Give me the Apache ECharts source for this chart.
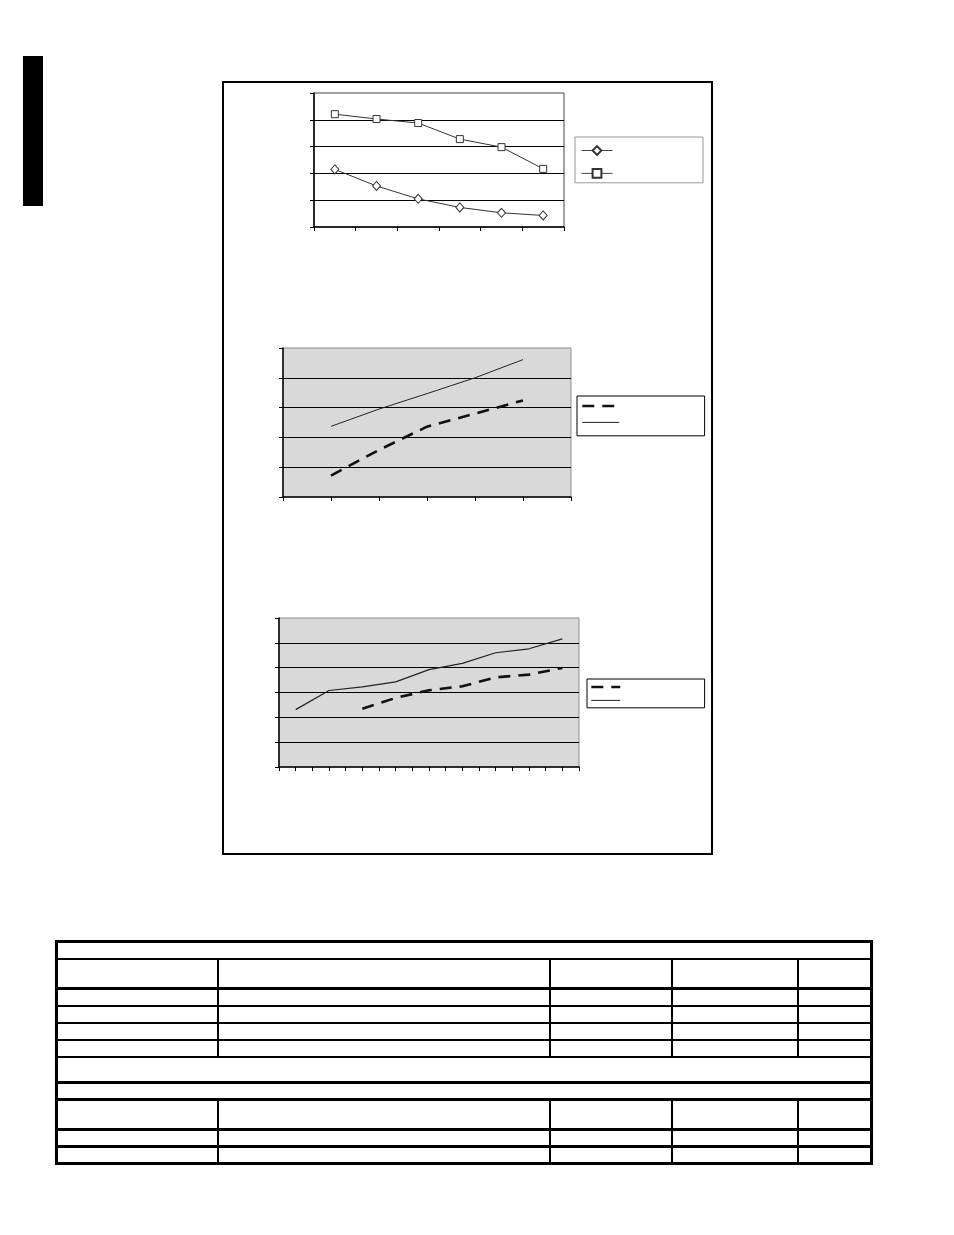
<!DOCTYPE html>
<html>
<head>
<meta charset="utf-8">
<script src="https://cdn.jsdelivr.net/npm/echarts/dist/echarts.min.js"></script>
<style>
html, body { margin: 0; padding: 0; background: #fff; }
#page { position: relative; width: 954px; height: 1235px; overflow: hidden; }
#tab { position: absolute; left: 23px; top: 56px; width: 20px; height: 150px; background: #000; }
#frame { position: absolute; left: 222px; top: 81px; width: 487px; height: 770px; border: 2px solid #000; }
#main { position: absolute; left: 0; top: 0; width: 954px; height: 880px; }
table { position: absolute; left: 55px; top: 940px; border-collapse: collapse; table-layout: fixed; border: 3px solid #000; }
td { border: 2px solid #000; padding: 0; }
tr.thick td { border-bottom-width: 3px; }
</style>
</head>
<body>
<div id="page">
  <div id="tab"></div>
  <div id="frame"></div>
  <div id="main"></div>
  <table>
    <colgroup><col style="width:161px"><col style="width:332px"><col style="width:122px"><col style="width:126px"><col style="width:74px"></colgroup>
    <tr style="height:17px"><td colspan="5"></td></tr>
    <tr class="thick" style="height:30px"><td></td><td></td><td></td><td></td><td></td></tr>
    <tr style="height:17px"><td></td><td></td><td></td><td></td><td></td></tr>
    <tr style="height:17px"><td></td><td></td><td></td><td></td><td></td></tr>
    <tr style="height:17px"><td></td><td></td><td></td><td></td><td></td></tr>
    <tr style="height:17px"><td></td><td></td><td></td><td></td><td></td></tr>
    <tr class="thick" style="height:26px"><td colspan="5"></td></tr>
    <tr class="thick" style="height:17px"><td colspan="5"></td></tr>
    <tr class="thick" style="height:30px"><td></td><td></td><td></td><td></td><td></td></tr>
    <tr class="thick" style="height:17px"><td></td><td></td><td></td><td></td><td></td></tr>
    <tr style="height:17px"><td></td><td></td><td></td><td></td><td></td></tr>
  </table>
</div>
<script>
// top chart: two marker lines over six categories
var topCategories = ['1', '2', '3', '4', '5', '6'];
var topDiamond = [2.15, 1.53, 1.05, 0.73, 0.53, 0.43];
var topSquare = [4.21, 4.03, 3.88, 3.28, 2.98, 2.17];

// middle chart
var midX = [1, 2, 3, 4, 5];
var midDashed = [0.72, 1.58, 2.36, 2.80, 3.24];
var midSolid = [2.37, 2.95, 3.47, 4.00, 4.61];

// bottom chart
var lowSolidX = [1, 3, 5, 7, 9, 11, 13, 15, 17];
var lowSolid = [2.31, 3.08, 3.23, 3.43, 3.92, 4.17, 4.60, 4.76, 5.16];
var lowDashedX = [5, 7, 9, 11, 13, 15, 17];
var lowDashed = [2.35, 2.78, 3.09, 3.25, 3.61, 3.72, 3.99];

function pairs(xs, ys) {
    return xs.map(function (x, i) { return [x, ys[i]]; });
}

var blank = function () { return ''; };
var noMarker = { color: 'rgba(0,0,0,0)', borderWidth: 0, opacity: 0 };

function xAxisFor(grid, extra) {
    var ax = {
        gridIndex: grid,
        axisLine: { show: true, onZero: false, lineStyle: { color: '#000', width: 1.5 } },
        axisTick: { show: true, length: 4, lineStyle: { color: '#000' } },
        axisLabel: { show: false },
        splitLine: { show: false }
    };
    return Object.assign(ax, extra);
}

function yAxisFor(grid, max) {
    return {
        gridIndex: grid,
        type: 'value',
        min: 0,
        max: max,
        interval: 1,
        axisLine: { show: true, lineStyle: { color: '#000', width: 1.5 } },
        axisTick: { show: true, length: 4, lineStyle: { color: '#000' } },
        axisLabel: { show: false },
        splitLine: { show: true, showMinLine: false, showMaxLine: false, lineStyle: { color: '#000', width: 1 } }
    };
}

var myChart = echarts.init(document.getElementById('main'));
var option = {
    animation: false,
    grid: [
        { left: 314, top: 93, width: 250, height: 134, show: true, borderColor: '#444', borderWidth: 1 },
        { left: 283, top: 348, width: 288, height: 149, show: true, backgroundColor: '#d9d9d9', borderColor: '#8c8c8c', borderWidth: 1 },
        { left: 279, top: 618, width: 300, height: 149, show: true, backgroundColor: '#d9d9d9', borderColor: '#8c8c8c', borderWidth: 1 }
    ],
    xAxis: [
        xAxisFor(0, { type: 'category', data: topCategories, boundaryGap: true }),
        xAxisFor(1, { type: 'value', min: 0, max: 6, interval: 1 }),
        xAxisFor(2, { type: 'value', min: 0, max: 18, interval: 1 })
    ],
    yAxis: [yAxisFor(0, 5), yAxisFor(1, 5), yAxisFor(2, 6)],
    legend: [
        {
            data: ['Series 1', 'Series 2'],
            left: 575, top: 137, orient: 'vertical',
            itemWidth: 31, itemHeight: 11, itemGap: 12,
            padding: [8, 90, 4, 6],
            borderColor: '#999', borderWidth: 1,
            lineStyle: { width: 1, color: '#444' },
            formatter: blank, textStyle: { fontSize: 6 }
        },
        {
            data: [
                { name: 'Series 3', lineStyle: { width: 2.6, color: '#111', type: [12, 8] } },
                { name: 'Series 4', lineStyle: { width: 1, color: '#222', type: 'solid' } }
            ],
            left: 577, top: 396, orient: 'vertical',
            itemWidth: 37, itemHeight: 6, itemGap: 11,
            padding: [7, 84, 11, 4],
            borderColor: '#000', borderWidth: 1,
            itemStyle: noMarker,
            formatter: blank, textStyle: { fontSize: 6 }
        },
        {
            data: [
                { name: 'Series 5', lineStyle: { width: 2.6, color: '#111', type: [12, 8] } },
                { name: 'Series 6', lineStyle: { width: 1, color: '#222', type: 'solid' } }
            ],
            left: 587, top: 679, orient: 'vertical',
            itemWidth: 29, itemHeight: 6, itemGap: 8,
            padding: [5, 83, 5, 3],
            borderColor: '#000', borderWidth: 1,
            itemStyle: noMarker,
            formatter: blank, textStyle: { fontSize: 6 }
        }
    ],
    series: [
        {
            name: 'Series 1', type: 'line', xAxisIndex: 0, yAxisIndex: 0,
            data: topDiamond, symbol: 'diamond', symbolSize: [8, 9],
            itemStyle: { color: '#fff', borderColor: '#333', borderWidth: 1 },
            lineStyle: { color: '#333', width: 1 }
        },
        {
            name: 'Series 2', type: 'line', xAxisIndex: 0, yAxisIndex: 0,
            data: topSquare, symbol: 'rect', symbolSize: 7,
            itemStyle: { color: '#fff', borderColor: '#333', borderWidth: 1 },
            lineStyle: { color: '#333', width: 1 }
        },
        {
            name: 'Series 3', type: 'line', xAxisIndex: 1, yAxisIndex: 1,
            data: pairs(midX, midDashed), symbol: 'none',
            itemStyle: { color: '#111' },
            lineStyle: { color: '#111', width: 2.6, type: [12, 8] }
        },
        {
            name: 'Series 4', type: 'line', xAxisIndex: 1, yAxisIndex: 1,
            data: pairs(midX, midSolid), symbol: 'none',
            itemStyle: { color: '#222' },
            lineStyle: { color: '#222', width: 1 }
        },
        {
            name: 'Series 5', type: 'line', xAxisIndex: 2, yAxisIndex: 2,
            data: pairs(lowDashedX, lowDashed), symbol: 'none',
            itemStyle: { color: '#111' },
            lineStyle: { color: '#111', width: 2.6, type: [12, 8] }
        },
        {
            name: 'Series 6', type: 'line', xAxisIndex: 2, yAxisIndex: 2,
            data: pairs(lowSolidX, lowSolid), symbol: 'none',
            itemStyle: { color: '#222' },
            lineStyle: { color: '#222', width: 1.2 }
        }
    ]
};

myChart.setOption(option);
</script>
</body>
</html>
